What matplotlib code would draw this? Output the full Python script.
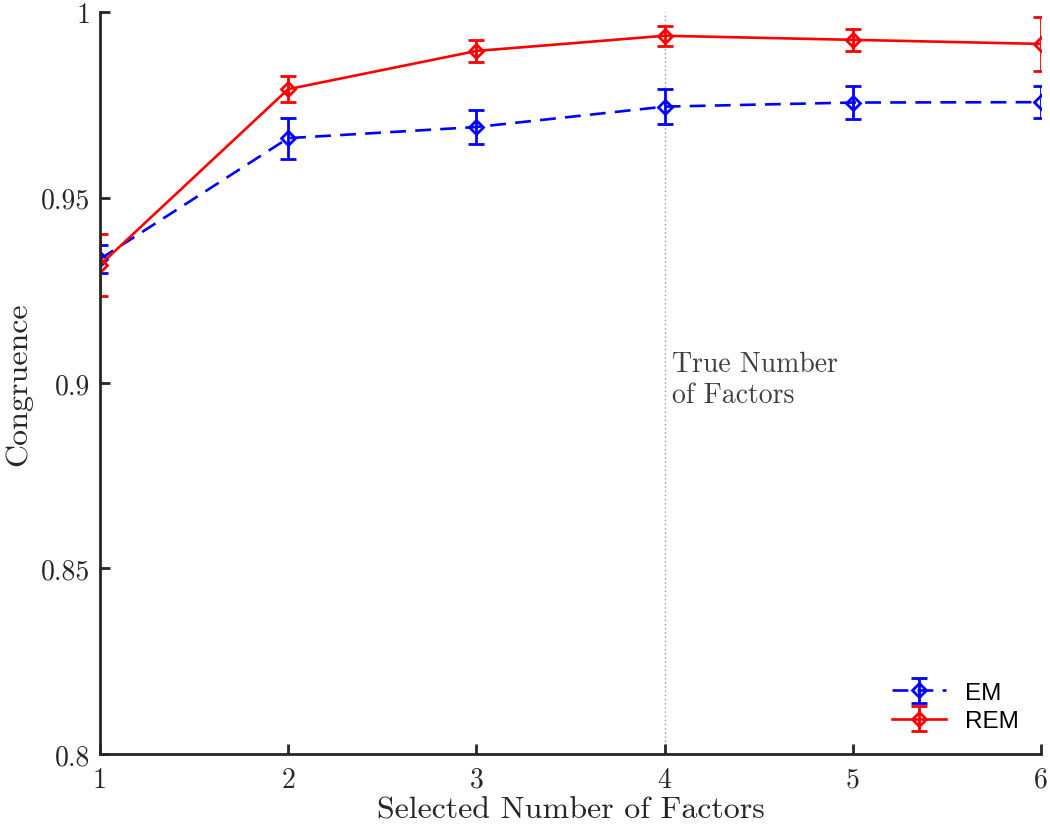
import numpy as np
import matplotlib
matplotlib.use('Agg')
import matplotlib.pyplot as plt

# data
factors = [1, 2, 3, 4, 5, 6]
em_mean = [0.9334, 0.9660, 0.9690, 0.9745, 0.9756, 0.9757]
em_err = [0.0037, 0.0055, 0.0047, 0.0047, 0.0044, 0.0044]
rem_mean = [0.9318, 0.9792, 0.9895, 0.9936, 0.9925, 0.9914]
rem_err = [0.0084, 0.0035, 0.0030, 0.0027, 0.0029, 0.0073]
true_k = 4

plt.rcParams['font.family'] = 'serif'
plt.rcParams['font.serif'] = ['cmr10', 'DejaVu Serif']
plt.rcParams['axes.formatter.use_mathtext'] = True

fig = plt.figure(figsize=(10.5, 8.29), dpi=100)
ax = fig.add_axes([0.0952, 0.0893, 0.8962, 0.8950])

ax.axvline(true_k, color='#999999', linestyle=(0, (1, 2)), linewidth=1.0, zorder=1)

ax.errorbar(factors, em_mean, yerr=em_err, color='blue', linestyle=(0, (6, 3.5)),
            linewidth=1.9, marker='D', markersize=7, markerfacecolor='none',
            markeredgewidth=2.0, capsize=5.5, elinewidth=2.0, capthick=2.0, label='EM')
ax.errorbar(factors, rem_mean, yerr=rem_err, color='red', linestyle='-',
            linewidth=1.9, marker='D', markersize=7, markerfacecolor='none',
            markeredgewidth=2.0, capsize=5.5, elinewidth=2.0, capthick=2.0, label='REM')

ax.text(4.04, 0.9088, 'True Number\nof Factors', fontsize=20, color='#404040',
        va='top', ha='left', linespacing=1.25)

ax.set_xlim(1, 6)
ax.set_ylim(0.8, 1.0)
ax.set_xticks(factors)
ax.set_yticks([0.8, 0.85, 0.9, 0.95, 1.0])
ax.set_yticklabels(['0.8', '0.85', '0.9', '0.95', '1'])
ax.set_xticklabels([str(f) for f in factors])

for side in ['top', 'right']:
    ax.spines[side].set_visible(False)
for side in ['left', 'bottom']:
    ax.spines[side].set_color('#262626')
    ax.spines[side].set_linewidth(2.0)
ax.tick_params(direction='in', length=7, width=2.0, colors='#262626', labelsize=20,
               labelcolor='#262626')
ax.tick_params(axis='x', pad=9)
ax.tick_params(axis='y', pad=7)

ax.set_xlabel('Selected Number of Factors', fontsize=23, color='#262626', labelpad=2)
ax.set_ylabel('Congruence', fontsize=23, color='#262626', labelpad=6)

leg = ax.legend(loc='lower right', frameon=False, prop={'family': 'Liberation Sans', 'size': 17.5},
                handlelength=2.2, borderaxespad=0.5, labelspacing=0.25)

fig.savefig('out.png', dpi=100)
